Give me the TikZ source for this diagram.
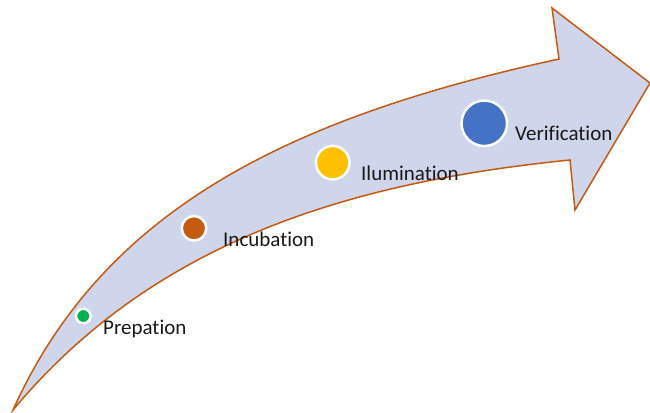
\documentclass[tikz,border=0pt]{standalone}
\usepackage{fontspec}
\setmainfont[Ligatures=NoCommon]{Carlito}
\definecolor{bandfill}{HTML}{CFD5EA}
\definecolor{bandline}{HTML}{C55A11}
\definecolor{dotgreen}{HTML}{00B050}
\definecolor{dotorange}{HTML}{C55A11}
\definecolor{dotyellow}{HTML}{FFC000}
\definecolor{dotblue}{HTML}{4472C4}
\begin{document}
\begin{tikzpicture}[x=1pt,y=-1pt,
  stagedot/.style={circle, draw=white, line width=2.5pt, inner sep=0pt, outer sep=0pt},
  stagelabel/.style={anchor=base west, inner sep=0pt, font=\fontsize{21}{25}\selectfont, text=black!90}]
\useasboundingbox (0,0) rectangle (650,412);

% curved arrow band
\coordinate (tail) at (13,410);
\coordinate (upper notch) at (559,59);
\coordinate (head top) at (552,8);
\coordinate (head tip) at (650,83);
\coordinate (head bottom) at (575,210);
\coordinate (lower notch) at (570,160);
\draw[fill=bandfill, draw=bandline, line width=1.5pt, line join=miter]
  (tail) .. controls (103,210) and (288,118) .. (upper notch)
  -- (head top) -- (head tip) -- (head bottom) -- (lower notch)
  .. controls (351,182) and (154,240.6) .. (tail) -- cycle;

% stages
\node[stagedot, fill=dotgreen, minimum size=14.5pt] (prep) at (83.3,316) {};
\node[stagedot, fill=dotorange, minimum size=24.5pt] (incu) at (194,228.3) {};
\node[stagedot, fill=dotyellow, minimum size=33.5pt] (ilum) at (332.7,162.7) {};
\node[stagedot, fill=dotblue, minimum size=45.5pt] (veri) at (484.3,123.3) {};

\node[stagelabel] (prep label) at (103,334) {Prepation};
\node[stagelabel] (incu label) at (223,246) {Incubation};
\node[stagelabel] (ilum label) at (361,180) {Ilumination};
\node[stagelabel] (veri label) at (515,140) {Verification};
\end{tikzpicture}
\end{document}
